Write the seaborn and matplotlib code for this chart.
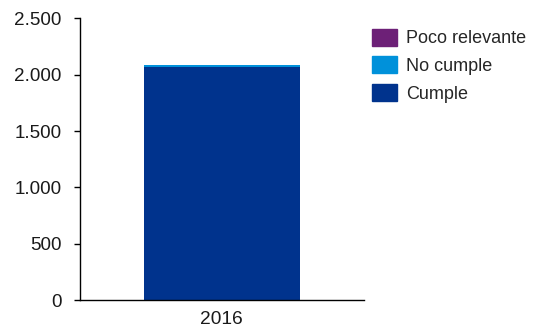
import matplotlib
matplotlib.use("Agg")
import matplotlib.pyplot as plt
import matplotlib.patches as mpatches
import seaborn as sns
import pandas as pd
from matplotlib.ticker import FuncFormatter, MultipleLocator

years = ["2016"]
cumple = [2068]
no_cumple = [14]
poco_relevante = [2]

series_names = ["Cumple", "No cumple", "Poco relevante"]
colors = ["#00338D", "#0091DA", "#6D2077"]

sns.set_theme(style="white")
plt.rcParams["font.family"] = ["Liberation Sans", "DejaVu Sans"]

fig = plt.figure(figsize=(5.43, 3.29), dpi=100)
ax = fig.add_axes([0.147, 0.087, 0.523, 0.858])

df = pd.DataFrame({"year": years, "Cumple": cumple,
                   "No cumple": no_cumple, "Poco relevante": poco_relevante})
bottom = [0] * len(years)
for name, color in zip(series_names, colors):
    sns.barplot(data=df, x="year", y=name, color=color, width=0.55,
                bottom=bottom, ax=ax, saturation=1, linewidth=0)
    bottom = [b + v for b, v in zip(bottom, df[name])]

ax.set_ylim(0, 2500)
ax.set_xlim(-0.5, 0.5)
ax.yaxis.set_major_locator(MultipleLocator(500))
ax.yaxis.set_major_formatter(FuncFormatter(lambda v, p: f"{int(v):,}".replace(",", ".")))
ax.set_xlabel("")
ax.set_ylabel("")

for s in ["top", "right"]:
    ax.spines[s].set_visible(False)
for s in ["left", "bottom"]:
    ax.spines[s].set_color("#000000")
    ax.spines[s].set_linewidth(1.0)
ax.tick_params(axis="y", which="major", left=True, length=4, width=1,
               color="#000000", labelsize=13.6, labelcolor="#1a1a1a", pad=9)
ax.tick_params(axis="x", bottom=False, labelsize=13.8, labelcolor="#1a1a1a", pad=2)

handles = [mpatches.Patch(color=c, label=n) for n, c in zip(series_names, colors)][::-1]
fig.legend(handles=handles, loc="upper left", bbox_to_anchor=(0.672, 0.934),
           frameon=False, fontsize=13, handlelength=1.39, handleheight=1.05,
           handletextpad=0.5, labelspacing=0.5, borderaxespad=0)

fig.savefig("out.png", dpi=100)
